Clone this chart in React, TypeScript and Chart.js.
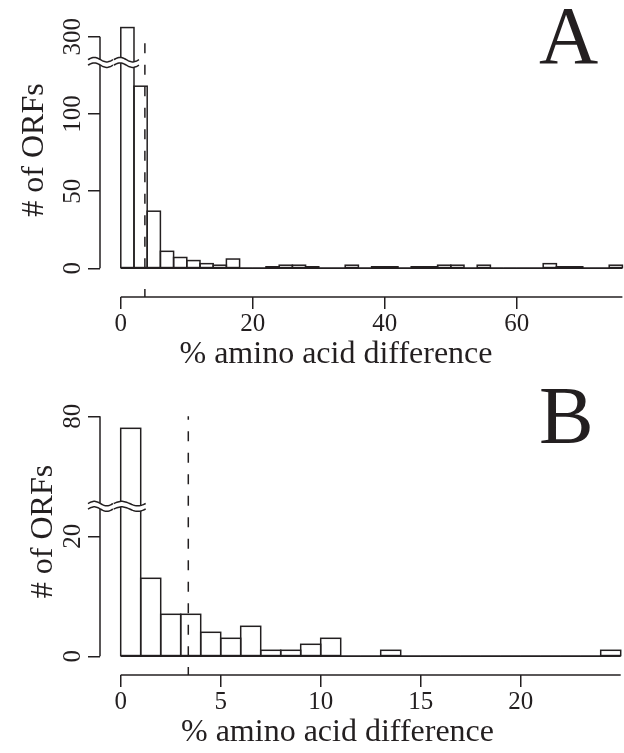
import React, { useEffect, useRef } from 'react';
import { Chart, registerables } from 'chart.js';

Chart.register(...registerables);

// ---------- Data: panel A ----------
const binWidthA = 2;
const countsA = [306, 118, 37, 11, 7, 5, 3, 2, 6, 0, 0, 1, 2, 2, 1, 0, 0, 2, 0, 1, 1, 0, 1, 1, 2, 2, 0, 2, 0, 0, 0, 0, 3, 1, 1, 0, 0, 2];
const xTicksA = [0, 20, 40, 60];
const yTicksA = [0, 50, 100, 300];
const medianA = 3.65;

// ---------- Data: panel B ----------
const binWidthB = 1;
const countsB = [78, 13, 7, 7, 4, 3, 5, 1, 1, 2, 3, 0, 0, 1, 0, 0, 0, 0, 0, 0, 0, 0, 0, 0, 1];
const xTicksB = [0, 5, 10, 15, 20];
const yTicksB = [0, 20, 80];
const medianB = 3.38;

const xTitle = '% amino acid difference';
const yTitle = '# of ORFs';

const INK = '#231f20';
const SERIF = "'Liberation Serif', 'DejaVu Serif', serif";

type Panel = {
  letter: string;
  counts: number[];
  binWidth: number;
  xTicks: number[];
  yTicks: number[];
  median: number;
  dashTop: number;
  breakAt: number;
  gap: number;
  height: number;
  area: { top: number; bottom: number; left: number; right: number };
  xMin: number;
  xMax: number;
  yMin: number;
  yMax: number;
  yTitlePos: [number, number];
  xTitlePos: [number, number];
  letterPos: [number, number];
};

const panels: Panel[] = [
  {
    letter: 'A', counts: countsA, binWidth: binWidthA, xTicks: xTicksA, yTicks: yTicksA,
    median: medianA, dashTop: 296, breakAt: 133.4, gap: 150,
    height: 376, area: { top: 20, bottom: 297, left: 100, right: 622.4 },
    xMin: -3.15, xMax: 76, yMin: -18.6, yMax: 160.9,
    yTitlePos: [43, 150], xTitlePos: [336, 363], letterPos: [539, 63],
  },
  {
    letter: 'B', counts: countsB, binWidth: binWidthB, xTicks: xTicksB, yTicks: yTicksB,
    median: medianB, dashTop: 80, breakAt: 25, gap: 40,
    height: 377, area: { top: 24, bottom: 299, left: 100, right: 620.7 },
    xMin: -1.035, xMax: 25, yMin: -3.117, yMax: 42.72,
    yTitlePos: [51.5, 155.5], xTitlePos: [337.5, 365], letterPos: [539, 67],
  },
];

function drawBreak(ctx: CanvasRenderingContext2D, x0: number, x1: number, yc: number) {
  const sep = 5.5;
  const amp = 2.2;
  const n = 30;
  const pts: number[] = [];
  for (let i = 0; i <= n; i++) pts.push(x0 + ((x1 - x0) * i) / n);
  const off = (x: number) => -amp * Math.sin((2 * Math.PI * (x - x0)) / (x1 - x0));
  ctx.save();
  ctx.beginPath();
  pts.forEach((x, i) => {
    const y = yc - sep / 2 + off(x);
    if (i === 0) ctx.moveTo(x, y); else ctx.lineTo(x, y);
  });
  for (let i = pts.length - 1; i >= 0; i--) ctx.lineTo(pts[i], yc + sep / 2 + off(pts[i]));
  ctx.closePath();
  ctx.fillStyle = '#ffffff';
  ctx.fill();
  ctx.strokeStyle = INK;
  ctx.lineWidth = 1.5;
  for (const s of [-1, 1]) {
    ctx.beginPath();
    pts.forEach((x, i) => {
      const y = yc + (s * sep) / 2 + off(x);
      if (i === 0) ctx.moveTo(x, y); else ctx.lineTo(x, y);
    });
    ctx.stroke();
  }
  ctx.restore();
}

function HistPanel({ p }: { p: Panel }) {
  const ref = useRef<HTMLCanvasElement>(null);
  useEffect(() => {
    const tf = (v: number) => (v > p.breakAt ? v - p.gap : v);
    const untf = (v: number) => (v > p.breakAt ? v + p.gap : v);
    const data = p.counts.map((c, i) => ({ x: (i + 0.5) * p.binWidth, y: tf(c) }));

    const panelPlugin = {
      id: 'panelDecor',
      afterDatasetsDraw(chart: any) {
        const ctx: CanvasRenderingContext2D = chart.ctx;
        const meta = chart.getDatasetMeta(0);
        ctx.save();
        ctx.lineWidth = 1.5;
        ctx.strokeStyle = INK;
        meta.data.forEach((el: any) => {
          const { x, y, base, width } = el.getProps(['x', 'y', 'base', 'width'], true);
          ctx.strokeRect(x - width / 2, Math.min(y, base), width, Math.abs(base - y));
        });
        ctx.restore();
      },
      afterDraw(chart: any) {
        const ctx: CanvasRenderingContext2D = chart.ctx;
        const xs = chart.scales.x;
        const ys = chart.scales.y;
        const X = (v: number) => xs.getPixelForValue(v);
        const Y = (v: number) => ys.getPixelForValue(v);
        const line = (x1: number, y1: number, x2: number, y2: number) => {
          ctx.beginPath(); ctx.moveTo(x1, y1); ctx.lineTo(x2, y2); ctx.stroke();
        };
        ctx.save();
        ctx.strokeStyle = INK;
        ctx.fillStyle = INK;
        ctx.lineWidth = 1.5;
        ctx.lineCap = 'butt';
        // baseline of histogram
        line(X(0), Y(0), X(p.counts.length * p.binWidth), Y(0));
        // x axis line
        const axY = xs.top;
        line(X(0), axY, X(p.xMax), axY);
        // median mark on axis
        line(X(p.median), axY, X(p.median), axY - 8);
        // y axis line
        const axX = ys.right;
        const ticks = ys.ticks.map((t: any) => t.value);
        line(axX, Y(ticks[0]), axX, Y(ticks[ticks.length - 1]));
        // dashed median line
        ctx.setLineDash([10, 11.5]);
        line(X(p.median), Y(0), X(p.median), Y(tf(p.dashTop)));
        ctx.setLineDash([]);
        // axis breaks
        drawBreak(ctx, axX - 12, axX + 13, Y(p.breakAt));
        drawBreak(ctx, X(0) - 7, X(p.binWidth) + 5, Y(p.breakAt));
        // y tick labels (parallel to axis)
        ctx.font = `25px ${SERIF}`;
        ctx.textAlign = 'center';
        ctx.textBaseline = 'alphabetic';
        ticks.forEach((v: number) => {
          ctx.save();
          ctx.translate(axX - 20, Y(v));
          ctx.rotate(-Math.PI / 2);
          ctx.fillText(String(Math.round(untf(v))), 0, 0);
          ctx.restore();
        });
        // y title
        ctx.font = `32px ${SERIF}`;
        ctx.save();
        ctx.translate(p.yTitlePos[0], p.yTitlePos[1]);
        ctx.rotate(-Math.PI / 2);
        ctx.fillText(yTitle, 0, 0);
        ctx.restore();
        // x title
        ctx.fillText(xTitle, p.xTitlePos[0], p.xTitlePos[1]);
        // panel letter
        ctx.font = `82px ${SERIF}`;
        ctx.textAlign = 'left';
        ctx.fillText(p.letter, p.letterPos[0], p.letterPos[1]);
        ctx.restore();
      },
    };

    const chart = new Chart(ref.current as HTMLCanvasElement, {
      type: 'bar',
      data: {
        datasets: [
          {
            data: data as any,
            backgroundColor: '#ffffff',
            borderWidth: 0,
            barPercentage: 1,
            categoryPercentage: 1,
          },
        ],
      },
      options: {
        animation: false,
        responsive: false,
        devicePixelRatio: 1,
        events: [],
        layout: { padding: { top: p.area.top, right: 624 - p.area.right, left: 0, bottom: 0 } },
        plugins: { legend: { display: false }, tooltip: { enabled: false } },
        scales: {
          x: {
            type: 'linear',
            min: p.xMin,
            max: p.xMax,
            offset: false,
            afterFit: (s: any) => { s.height = p.height - p.area.bottom; },
            afterBuildTicks: (s: any) => { s.ticks = p.xTicks.map((v) => ({ value: v })); },
            ticks: {
              font: { family: SERIF, size: 25 },
              color: INK,
              padding: 0,
              maxRotation: 0,
              minRotation: 0,
              autoSkip: false,
              callback: (v: any) => String(v),
            },
            grid: { offset: false, drawOnChartArea: false, drawTicks: true, tickLength: 12, color: INK, lineWidth: 1.5 },
            border: { display: false },
          },
          y: {
            type: 'linear',
            min: p.yMin,
            max: p.yMax,
            afterFit: (s: any) => { s.width = p.area.left; },
            afterBuildTicks: (s: any) => { s.ticks = p.yTicks.map((v) => ({ value: tf(v) })); },
            ticks: { display: false },
            grid: { drawOnChartArea: false, drawTicks: true, tickLength: 12, color: INK, lineWidth: 1.5 },
            border: { display: false },
          },
        },
      } as any,
      plugins: [panelPlugin],
    });
    return () => chart.destroy();
  }, []);
  return (
    <canvas
      ref={ref}
      width={624}
      height={p.height}
      style={{ display: 'block', width: 624, height: p.height }}
    />
  );
}

export default function App() {
  return (
    <div style={{ position: 'absolute', left: 0, top: 0, width: 624, height: 753, background: '#ffffff' }}>
      {panels.map((p) => (
        <HistPanel key={p.letter} p={p} />
      ))}
    </div>
  );
}
